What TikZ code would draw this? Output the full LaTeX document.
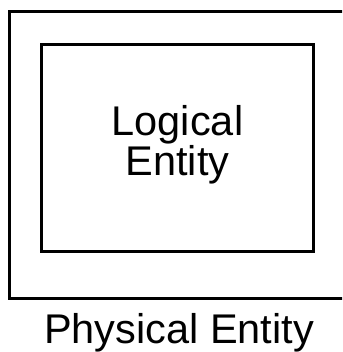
\documentclass[tikz,border=0pt]{standalone}
\usepackage{fontspec}
\setmainfont{Liberation Sans}
\begin{document}
\begin{tikzpicture}[x=1pt,y=-1pt,
  entitybox/.style={draw=black,line width=2.6pt},
  label/.style={inner sep=0pt,font=\fontsize{41.5}{37.3}\selectfont,align=center}]
\useasboundingbox (0,0) rectangle (342,352);
\clip (0,0) rectangle (342,352);
\draw[entitybox] (9.3,11.5) rectangle (352,298.5);
\draw[entitybox] (41.5,44.5) rectangle (313.5,251.5);
\node[label,anchor=center] (logical) at (177.5,145) {Logical\\Entity};
\node[label,anchor=base] (physical) at (179,343.3) {Physical Entity};
\end{tikzpicture}
\end{document}
